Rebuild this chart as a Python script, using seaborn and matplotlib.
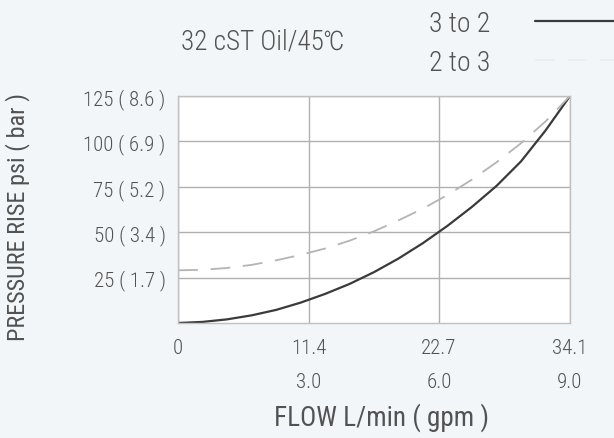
import matplotlib
matplotlib.use("Agg")
import matplotlib.pyplot as plt
from matplotlib import font_manager
import seaborn as sns
import pandas as pd

# ---- data ----
flow_lpm = [0, 2.13, 4.26, 6.39, 8.53, 10.66, 12.79, 14.92, 17.05, 19.18,
            21.31, 23.44, 25.58, 27.71, 29.84, 31.97, 34.1]
psi_3to2 = [0, 0.6, 2.0, 4.2, 7.2, 11.2, 16.0, 21.5, 28.0, 35.5,
            44.0, 53.5, 64.0, 75.5, 89.0, 106.0, 125.0]
psi_2to3 = [29, 29.3, 30.3, 32, 34.5, 37.5, 41, 45.3, 50.5, 56.5,
            63, 70.5, 79, 88.5, 99, 111, 125]
series_labels = ["3 to 2", "2 to 3"]
x_ticks = [0, 11.4, 22.7, 34.1]
x_tick_labels = ["0", "11.4\n3.0", "22.7\n6.0", "34.1\n9.0"]
y_ticks = [25, 50, 75, 100, 125]
y_tick_labels = ["25 ( 1.7 )", "50 ( 3.4 )", "75 ( 5.2 )", "100 ( 6.9 )", "125 ( 8.6 )"]
title = "32 cST Oil/45℃"
x_label = "FLOW L/min ( gpm )"
y_label = "PRESSURE RISE psi ( bar )"

df = pd.DataFrame({
    "flow": flow_lpm * 2,
    "psi": psi_3to2 + psi_2to3,
    "series": [series_labels[0]] * len(flow_lpm) + [series_labels[1]] * len(flow_lpm),
})

sns.set_theme(style="white")
names = {f.name for f in font_manager.fontManager.ttflist}
fam = "DejaVu Sans"
for cand in ["Liberation Sans Narrow", "DejaVu Sans Condensed", "Roboto Condensed",
             "Open Sans Condensed", "Roboto"]:
    if cand in names:
        fam = cand
        break
plt.rcParams["font.family"] = [fam, "DejaVu Sans"]
plt.rcParams["font.weight"] = "light"

txt = "#525252"
fig = plt.figure(figsize=(6.14, 4.39), dpi=100, facecolor="#f2f6f9")
ax = fig.add_axes([178 / 614, 1 - 324 / 439, (570 - 178) / 614, (324 - 97) / 439])
ax.set_facecolor("white")

sns.lineplot(data=df[df.series == series_labels[0]], x="flow", y="psi", ax=ax,
             color="#3a3a3a", linewidth=1.6, label=series_labels[0])
sns.lineplot(data=df[df.series == series_labels[1]], x="flow", y="psi", ax=ax,
             color="#b4b4b4", linewidth=1.3, dashes=(11, 7), label=series_labels[1])

ax.set_xlim(0, 34.1)
ax.set_ylim(0, 125)
ax.set_xticks(x_ticks)
ax.set_xticklabels(x_tick_labels, linespacing=1.95)
ax.set_yticks(y_ticks)
ax.set_yticklabels(y_tick_labels)
ax.tick_params(axis="both", length=0, labelsize=15, colors=txt)
ax.tick_params(axis="x", pad=11)
ax.tick_params(axis="y", pad=9)
ax.grid(True, color="#b0b0b0", linewidth=1.0)
for s in ax.spines.values():
    s.set_color("#c0c0c0")
    s.set_linewidth(1.0)

ax.set_xlabel(x_label, fontsize=19.5, color=txt)
ax.xaxis.set_label_coords(0.52, (324 - 418) / 227)
ax.xaxis.label.set_va("center")
ax.set_ylabel(y_label, fontsize=17.5, color=txt)
ax.yaxis.set_label_coords((18 - 178) / 392, (324 - 217) / 227)
ax.yaxis.label.set_va("center")
fig.text(263 / 614, 1 - 42 / 439, title, fontsize=19.5, color=txt, ha="center", va="center")

leg = ax.legend(loc="upper left", bbox_to_anchor=(404 / 614, 1 + 14 / 439),
                bbox_transform=fig.transFigure, frameon=False, markerfirst=False,
                fontsize=20, handlelength=3.0, labelspacing=0.42, handletextpad=1.6,
                labelcolor=txt)
leg.get_lines()[1].set_alpha(0.12)

fig.savefig("out.png", dpi=100, facecolor=fig.get_facecolor())
